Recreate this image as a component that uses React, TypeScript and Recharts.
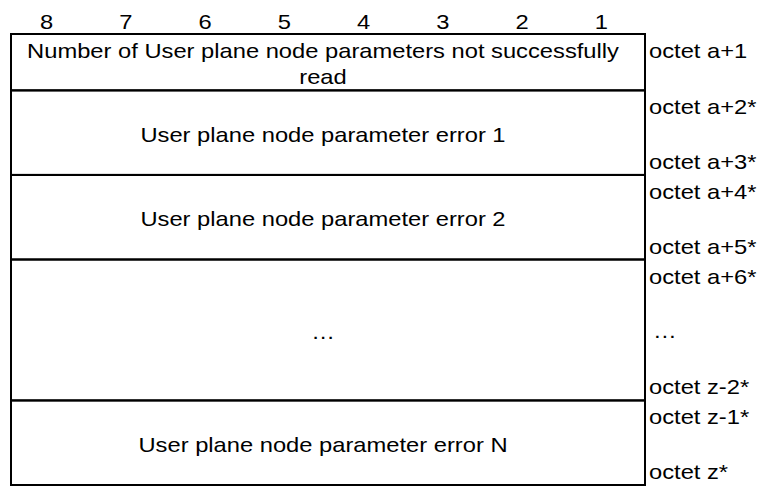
import { ComposedChart, XAxis, YAxis, ReferenceArea } from 'recharts'

const bits = ['8', '7', '6', '5', '4', '3', '2', '1']

// row boundaries, in octet-ish units from the top of the table
const rowBounds = [0, 2, 5, 8, 13, 16]

const rowTexts = [
  ['Number of User plane node parameters not successfully', 'read'],
  ['User plane node parameter error 1'],
  ['User plane node parameter error 2'],
  ['…'],
  ['User plane node parameter error N']
]

const octetTop = ['octet a+1', 'octet a+2*', 'octet a+4*', 'octet a+6*', 'octet z-1*']
const octetMid = ['', '', '', '…', '']
const octetBottom = ['', 'octet a+3*', 'octet a+5*', 'octet z-2*', 'octet z*']

const FONT = '"Liberation Sans", Arial, sans-serif'
const FS = 21
const SX = 1.13

function Txt({ x, y, anchor = 'middle', children }: any) {
  return (
    <text
      transform={`translate(${x},${y}) scale(${SX},1)`}
      textAnchor={anchor}
      fontFamily={FONT}
      fontSize={FS}
      fill="#000"
    >
      {children}
    </text>
  )
}

function BitTick({ x, y, payload }: any) {
  return <Txt x={x - 4} y={y}>{payload.value}</Txt>
}

function rowShape(i: number) {
  return (props: any) => {
    const { x, y, width, height } = props
    const lines = rowTexts[i]
    const cx = x + width / 2 - 5
    const cy = y + height / 2
    const lh = 26
    const right = x + width + 4
    return (
      <g>
        <rect x={x} y={y} width={width} height={height} fill="none" stroke="#000" strokeWidth={2} />
        {lines.map((t, k) => (
          <Txt key={k} x={cx} y={cy + 9 + (k - (lines.length - 1) / 2) * lh}>{t}</Txt>
        ))}
        {octetTop[i] && <Txt x={right} y={y + 24} anchor="start">{octetTop[i]}</Txt>}
        {octetMid[i] && <Txt x={right + 4} y={cy + 8} anchor="start">{octetMid[i]}</Txt>}
        {octetBottom[i] && <Txt x={right} y={y + height - 6} anchor="start">{octetBottom[i]}</Txt>}
      </g>
    )
  }
}

export default function App() {
  const data = bits.map((b) => ({ bit: b }))
  return (
    <div style={{ position: 'absolute', left: 0, top: 0, background: '#fff' }}>
      <ComposedChart width={759} height={486} data={data} margin={{ top: 0, right: 114, bottom: 1, left: 11 }}>
        <XAxis
          dataKey="bit"
          scale="band"
          orientation="top"
          height={34}
          axisLine={false}
          tickLine={false}
          tickSize={0}
          tickMargin={5}
          interval={0}
          tick={<BitTick />}
        />
        <YAxis type="number" domain={[0, 16]} reversed hide allowDataOverflow />
        {rowTexts.map((_, i) => (
          <ReferenceArea
            key={i}
            y1={rowBounds[i]}
            y2={rowBounds[i + 1]}
            ifOverflow="visible"
            shape={rowShape(i)}
          />
        ))}
      </ComposedChart>
    </div>
  )
}
